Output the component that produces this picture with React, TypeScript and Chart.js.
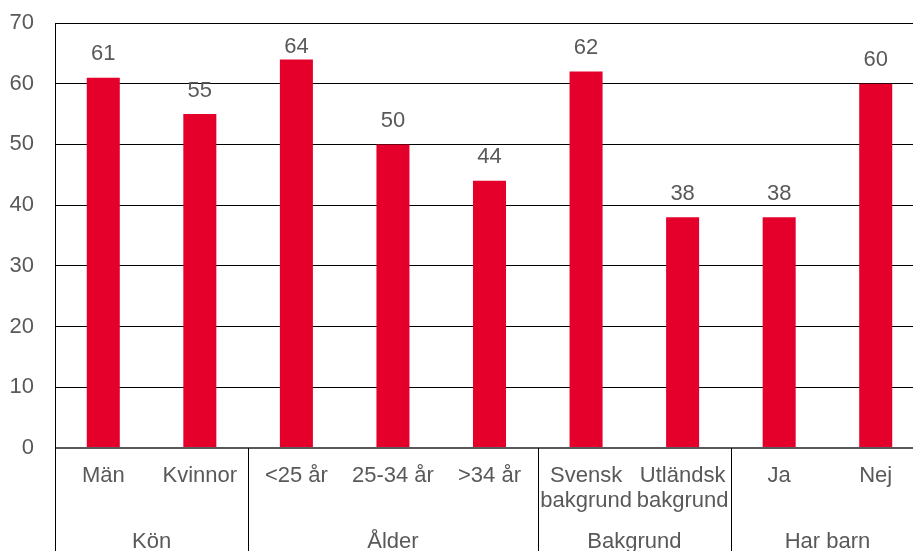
import React, { useEffect, useRef } from 'react';
import { Chart, registerables } from 'chart.js';

Chart.register(...registerables);

const categories: string[][] = [
  ['Män'],
  ['Kvinnor'],
  ['<25 år'],
  ['25-34 år'],
  ['>34 år'],
  ['Svensk', 'bakgrund'],
  ['Utländsk', 'bakgrund'],
  ['Ja'],
  ['Nej'],
];
const values = [61, 55, 64, 50, 44, 62, 38, 38, 60];
const groups = ['Kön', 'Ålder', 'Bakgrund', 'Har barn'];
const groupSizes = [2, 3, 2, 2];
const yMin = 0;
const yMax = 70;
const yStep = 10;

const FONT = '"Liberation Sans", Arial, sans-serif';
const TEXT = '#595959';
const BAR = '#E4002B';

const labelsPlugin = {
  id: 'multiLabels',
  afterDatasetsDraw(chart: any) {
    const ctx = chart.ctx;
    const area = chart.chartArea;
    const meta = chart.getDatasetMeta(0);
    ctx.save();
    ctx.font = `22px ${FONT}`;
    ctx.fillStyle = TEXT;
    ctx.textAlign = 'center';
    ctx.textBaseline = 'alphabetic';
    meta.data.forEach((bar: any, i: number) => {
      const yy = Math.max(bar.y - 17.5, area.top + 29.5);
      ctx.fillText(String(values[i]), bar.x, yy);
    });
    ctx.restore();
  },
  afterDraw(chart: any) {
    const ctx = chart.ctx;
    const xs = chart.scales.x;
    const area = chart.chartArea;
    const H = chart.height;
    ctx.save();
    ctx.strokeStyle = '#000';
    ctx.lineWidth = 1;
    ctx.beginPath();
    ctx.moveTo(Math.round(area.left) + 0.5, area.bottom);
    ctx.lineTo(Math.round(area.left) + 0.5, H);
    ctx.stroke();
    let idx = 0;
    const bounds: number[] = [area.left];
    groupSizes.forEach((n) => {
      idx += n;
      if (idx < categories.length) {
        const px = (xs.getPixelForValue(idx - 1) + xs.getPixelForValue(idx)) / 2;
        bounds.push(px);
        ctx.beginPath();
        ctx.moveTo(Math.round(px) + 0.5, area.bottom);
        ctx.lineTo(Math.round(px) + 0.5, H);
        ctx.stroke();
      } else {
        bounds.push(area.right);
      }
    });
    ctx.font = `22px ${FONT}`;
    ctx.fillStyle = TEXT;
    ctx.textAlign = 'center';
    ctx.textBaseline = 'alphabetic';
    categories.forEach((lines, i) => {
      const px = xs.getPixelForValue(i);
      lines.forEach((ln, j) => {
        ctx.fillText(ln, px, area.bottom + 34 + j * 25);
      });
    });
    groups.forEach((g, i) => {
      const cx = (bounds[i] + bounds[i + 1]) / 2;
      ctx.fillText(g, cx, area.bottom + 100);
    });
    ctx.restore();
  },
};

export default function App() {
  const ref = useRef<HTMLCanvasElement>(null);
  useEffect(() => {
    if (!ref.current) return;
    const chart = new Chart(ref.current, {
      type: 'bar',
      data: {
        labels: categories.map((c) => c.join(' ')),
        datasets: [
          {
            data: values,
            backgroundColor: BAR,
            borderWidth: 0,
            barPercentage: 0.342,
            categoryPercentage: 1,
          },
        ],
      },
      options: {
        responsive: false,
        animation: false,
        devicePixelRatio: 1,
        layout: { padding: { top: 23, right: 6, bottom: 103, left: 0 } },
        plugins: { legend: { display: false }, tooltip: { enabled: false } },
        scales: {
          x: { display: false },
          y: {
            min: yMin,
            max: yMax,
            ticks: {
              stepSize: yStep,
              padding: 21,
              color: TEXT,
              font: { family: FONT, size: 22 },
            },
            grid: {
              drawTicks: false,
              color: (c: any) => (c.tick && c.tick.value === 0 ? '#595959' : '#000'),
              lineWidth: (c: any) => (c.tick && c.tick.value === 0 ? 2 : 1),
            },
            border: { display: true, color: '#000', width: 1 },
            afterFit(scale: any) {
              scale.width = 55;
              scale.paddingTop = 0;
              scale.paddingBottom = 0;
            },
          },
        },
      },
      plugins: [labelsPlugin],
    });
    return () => chart.destroy();
  }, []);
  return (
    <div style={{ position: 'fixed', left: 0, top: 0, width: 913, height: 551, overflow: 'hidden', background: '#fff' }}>
      <canvas ref={ref} width={930} height={551} style={{ display: 'block' }} />
    </div>
  );
}
